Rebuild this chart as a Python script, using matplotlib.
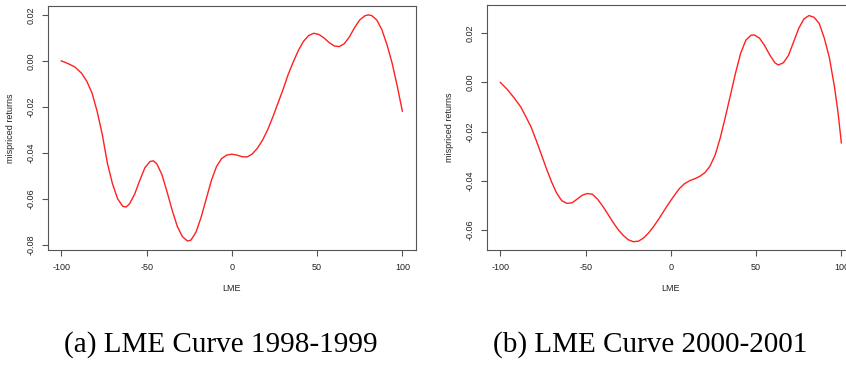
import matplotlib
matplotlib.use("Agg")
import matplotlib.pyplot as plt

# Panel (a): LME curve 1998-1999
lme_a = [-100, -96, -92, -88, -85, -82, -79, -76, -73, -70, -67, -64, -62, -60, -57,
         -54, -51, -48, -46, -44, -41, -38, -35, -32, -29, -26, -24, -21, -18, -15,
         -12, -9, -6, -3, 0, 3, 6, 9, 12, 15, 18, 21, 24, 27, 30,
         33, 36, 39, 42, 45, 48, 51, 54, 57, 60, 63, 66, 69, 72, 75,
         78, 80, 82, 85, 88, 91, 94, 97, 100]
ret_a = [0.0000, -0.0012, -0.0027, -0.0055, -0.0090, -0.0140, -0.0220, -0.0320, -0.0445, -0.0535,
         -0.0600, -0.0633, -0.0636, -0.0622, -0.0580, -0.0520, -0.0465, -0.0438, -0.0435, -0.0448,
         -0.0495, -0.0570, -0.0650, -0.0720, -0.0765, -0.0784, -0.0780, -0.0745, -0.0680, -0.0600,
         -0.0520, -0.0460, -0.0425, -0.0410, -0.0406, -0.0410, -0.0417, -0.0418, -0.0405, -0.0380,
         -0.0345, -0.0300, -0.0245, -0.0185, -0.0125, -0.0060, -0.0005, 0.0045, 0.0085, 0.0110,
         0.0120, 0.0115, 0.0100, 0.0080, 0.0065, 0.0062, 0.0075, 0.0105, 0.0145, 0.0178,
         0.0196, 0.0200, 0.0197, 0.0178, 0.0135, 0.0070, -0.0010, -0.0110, -0.0219]

# Panel (b): LME curve 2000-2001
lme_b = [-100, -96, -92, -88, -85, -82, -79, -76, -73, -70, -67, -64, -61, -58, -55,
         -52, -49, -46, -43, -40, -37, -34, -31, -28, -25, -22, -19, -16, -13, -10,
         -7, -4, -1, 2, 5, 8, 11, 14, 17, 20, 23, 26, 29, 32, 35,
         38, 41, 44, 47, 49, 52, 55, 58, 61, 63, 66, 69, 72, 75, 78,
         81, 84, 87, 90, 93, 96, 98, 100]
ret_b = [0.0000, -0.0028, -0.0062, -0.0100, -0.0140, -0.0181, -0.0235, -0.0292, -0.0350, -0.0404,
         -0.0450, -0.0481, -0.0492, -0.0490, -0.0475, -0.0459, -0.0452, -0.0455, -0.0475, -0.0503,
         -0.0535, -0.0568, -0.0598, -0.0622, -0.0640, -0.0648, -0.0646, -0.0633, -0.0612, -0.0585,
         -0.0555, -0.0522, -0.0490, -0.0460, -0.0432, -0.0412, -0.0400, -0.0392, -0.0382, -0.0367,
         -0.0340, -0.0295, -0.0225, -0.0140, -0.0050, 0.0040, 0.0120, 0.0172, 0.0192, 0.0193,
         0.0180, 0.0150, 0.0112, 0.0080, 0.0071, 0.0080, 0.0110, 0.0165, 0.0220, 0.0258,
         0.0272, 0.0265, 0.0240, 0.0180, 0.0100, -0.0020, -0.0120, -0.0246]

xticks = [-100, -50, 0, 50, 100]
yticks_a = [-0.08, -0.06, -0.04, -0.02, 0.00, 0.02]
yticks_b = [-0.06, -0.04, -0.02, 0.00, 0.02]
captions = ["(a) LME Curve 1998-1999", "(b) LME Curve 2000-2001"]

W, H = 846, 369
fig = plt.figure(figsize=(W / 100, H / 100), dpi=100)
plt.rcParams['font.family'] = ['Liberation Sans', 'DejaVu Sans']

def make_axes(x0, y0, x1, y1):
    return fig.add_axes([x0 / W, 1 - y1 / H, (x1 - x0) / W, (y1 - y0) / H])

ax_a = make_axes(47.7, 5.7, 416, 250)
ax_b = make_axes(486.7, 5, 855, 250.3)

edge = '#555555'
for ax, x, y, yt, ylim in [(ax_a, lme_a, ret_a, yticks_a, (-0.0823, 0.0240)),
                           (ax_b, lme_b, ret_b, yticks_b, (-0.0683, 0.0315))]:
    ax.plot(x, y, color='#ff2020', lw=1.0, solid_joinstyle='round')
    ax.set_xlim(-108, 108)
    ax.set_ylim(*ylim)
    ax.set_xticks(xticks)
    ax.set_xticklabels([str(v) for v in xticks])
    ax.set_yticks(yt)
    ax.set_yticklabels(["%.2f" % v for v in yt], rotation=90, va='center')
    for s in ax.spines.values():
        s.set_color(edge)
        s.set_linewidth(0.8)
    ax.tick_params(axis='both', colors=edge, labelcolor='#222222', length=4,
                   width=0.8, labelsize=6.5, pad=5)
    ax.set_xlabel('LME', fontsize=6.5, color='#222222', labelpad=9)
    ax.set_ylabel('mispriced returns', fontsize=6.5, color='#222222', labelpad=8)

fig.text(221 / W, 1 - 345 / H, captions[0], ha='center', va='center',
         fontsize=21, family=['Liberation Serif', 'DejaVu Serif'])
fig.text(650 / W, 1 - 345 / H, captions[1], ha='center', va='center',
         fontsize=21, family=['Liberation Serif', 'DejaVu Serif'])

fig.savefig('out.png', dpi=100)
